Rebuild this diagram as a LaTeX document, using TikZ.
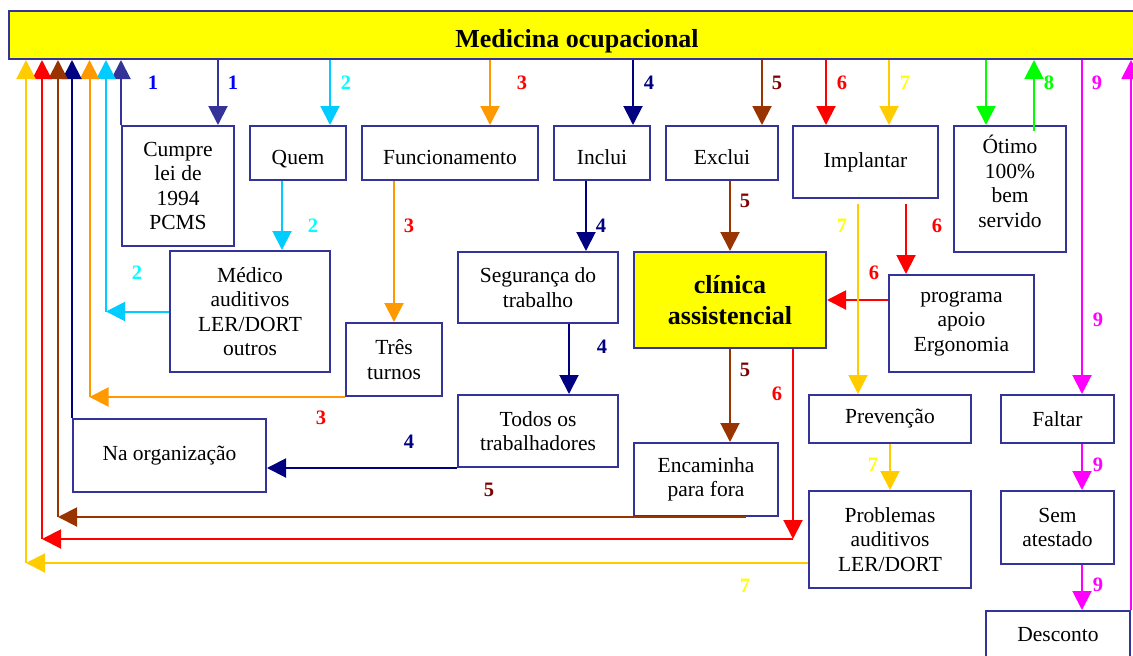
\documentclass[tikz,border=0pt]{standalone}
\usepackage{fontspec}
\setmainfont{Liberation Serif}
\usetikzlibrary{arrows.meta}
\definecolor{boxc}{HTML}{333399}
\definecolor{bany}{HTML}{FFFF00}
\definecolor{ind}{HTML}{333399}
\definecolor{cya}{HTML}{00CCFF}
\definecolor{org}{HTML}{FF9900}
\definecolor{nav}{HTML}{000080}
\definecolor{brn}{HTML}{993300}
\definecolor{rd}{HTML}{FF0000}
\definecolor{gld}{HTML}{FFCC00}
\definecolor{grn}{HTML}{00FF00}
\definecolor{mag}{HTML}{FF00FF}
\definecolor{lblue}{HTML}{0000FF}
\definecolor{lcyan}{HTML}{00FFFF}
\definecolor{ldred}{HTML}{800000}
\definecolor{lyel}{HTML}{FFFF00}
\begin{document}
\begin{tikzpicture}[x=1pt,y=-1pt,
  box/.style={draw=boxc,line width=2pt,fill=white,inner sep=0pt,align=center,
    font=\fontsize{21.5}{24.5}\selectfont},
  oneline/.style={text height=22pt,text depth=0pt},
  conn/.style={line width=2pt,-{Triangle[width=19pt,length=19pt]}},
  num/.style={font=\fontsize{20.5}{24}\selectfont\bfseries,inner sep=0pt},
]
\useasboundingbox (0,0) rectangle (1133,656);

% banner
\node[draw=boxc,line width=2pt,fill=bany,minimum width=1136pt,minimum height=48pt,
  inner sep=0pt,text height=24pt,text depth=0pt,
  font=\fontsize{26}{30}\selectfont\bfseries] (banner) at (577,35) {Medicina ocupacional};

% boxes
\node[box,minimum width=112pt,minimum height=120pt] (cumpre) at (178,186) {Cumpre\\lei de\\1994\\PCMS};
\node[box,oneline,minimum width=96pt,minimum height=54pt] (quem) at (298,153) {Quem};
\node[box,oneline,minimum width=176pt,minimum height=54pt] (func) at (450,153) {Funcionamento};
\node[box,oneline,minimum width=96pt,minimum height=54pt] (inclui) at (602,153) {Inclui};
\node[box,oneline,minimum width=112pt,minimum height=54pt] (exclui) at (722,153) {Exclui};
\node[box,minimum width=145pt,minimum height=72pt] (implantar) at (865.5,162) {Implantar};
\node[box,text depth=15pt,minimum width=112pt,minimum height=126pt] (otimo) at (1010,189) {Ótimo\\100\%\\bem\\servido};
\node[box,minimum width=160pt,minimum height=121pt] (medico) at (250,311.5) {Médico\\auditivos\\LER/DORT\\outros};
\node[box,minimum width=96pt,minimum height=73pt] (tres) at (394,359.5) {Três\\turnos};
\node[box,minimum width=193pt,minimum height=73pt] (naorg) at (169.5,455.5) {Na organização};
\node[box,minimum width=160pt,minimum height=71pt] (seg) at (538,287.5) {Segurança do\\trabalho};
\node[box,minimum width=160pt,minimum height=72pt] (todos) at (538,431) {Todos os\\trabalhadores};
\node[box,fill=bany,minimum width=192pt,minimum height=96pt,
  font=\fontsize{26}{31}\selectfont\bfseries] (clinica) at (730,300) {clínica\\assistencial};
\node[box,minimum width=144pt,minimum height=73pt] (encam) at (706,479.5) {Encaminha\\para fora};
\node[box,minimum width=145pt,minimum height=97pt] (programa) at (961.5,323.5) {programa\\apoio\\Ergonomia};
\node[box,minimum width=162pt,minimum height=48pt] (prev) at (890,419) {Prevenção};
\node[box,minimum width=113pt,minimum height=48pt] (faltar) at (1057.5,419) {Faltar};
\node[box,minimum width=162pt,minimum height=97pt] (problemas) at (890,539.5) {Problemas\\auditivos\\LER/DORT};
\node[box,minimum width=113pt,minimum height=73pt] (sem) at (1057.5,527.5) {Sem\\atestado};
\node[box,minimum width=144pt,minimum height=48pt] (desconto) at (1058,635) {Desconto};

% column and level positions of the connectors
\coordinate (xY) at (26,0);
\coordinate (xR) at (42,0);
\coordinate (xB) at (58,0);
\coordinate (xO) at (89.5,0);
\coordinate (xC) at (106,0);
\coordinate (d1) at (218,0);
\coordinate (d2) at (330,0);
\coordinate (d3) at (490,0);
\coordinate (d4) at (633,0);
\coordinate (d5) at (762,0);
\coordinate (d6) at (826,0);
\coordinate (d7) at (889,0);
\coordinate (d8) at (986,0);
\coordinate (g8) at (1034,0);
\coordinate (d9) at (1082,0);
\coordinate (q2) at (282,0);
\coordinate (i4) at (586,0);
\coordinate (s4) at (569,0);
\coordinate (p6) at (906,0);
\coordinate (pv7) at (858,0);
\coordinate (c6) at (793,0);
\coordinate (e5) at (746,0);
\coordinate (y6) at (0,539);
\coordinate (y7) at (0,563);

% 1
\draw[conn,ind] (banner.south -| d1) -- (cumpre.north -| d1);
\draw[conn,ind] (cumpre.north west) -- (banner.south -| cumpre.north west);
% 2
\draw[conn,cya] (banner.south -| d2) -- (quem.north -| d2);
\draw[conn,cya] (quem.south -| q2) -- (medico.north -| q2);
\draw[conn,cya] (medico.west) -- (medico.west -| xC);
\draw[conn,cya] (medico.west -| xC) -- (banner.south -| xC);
% 3
\draw[conn,org] (banner.south -| d3) -- (func.north -| d3);
\draw[conn,org] (func.south -| tres.north) -- (tres.north);
\draw[conn,org] (tres.south west) -- (tres.south west -| xO);
\draw[conn,org] (tres.south west -| xO) -- (banner.south -| xO);
% 4
\draw[conn,nav] (banner.south -| d4) -- (inclui.north -| d4);
\draw[conn,nav] (inclui.south -| i4) -- (seg.north -| i4);
\draw[conn,nav] (seg.south -| s4) -- (todos.north -| s4);
\draw[conn,nav] (todos.south west) -- (todos.south west -| naorg.east);
\draw[conn,nav] (naorg.north west) -- (banner.south -| naorg.north west);
% 5
\draw[conn,brn] (banner.south -| d5) -- (exclui.north -| d5);
\draw[conn,brn] (exclui.south -| clinica.north) -- (clinica.north);
\draw[conn,brn] (clinica.south) -- (encam.north -| clinica.south);
\draw[conn,brn] (encam.south -| e5) -- (encam.south -| xB);
\draw[conn,brn] (encam.south -| xB) -- (banner.south -| xB);
% 6
\draw[conn,rd] (banner.south -| d6) -- (implantar.north -| d6);
\draw[conn,rd,shorten <=5pt] (implantar.south -| p6) -- (programa.north -| p6);
\draw[conn,rd] (clinica.east -| programa.west) -- (clinica.east);
\draw[conn,rd] (clinica.south -| c6) -- (y6 -| c6);
\draw[conn,rd] (y6 -| c6) -- (y6 -| xR);
\draw[conn,rd] (y6 -| xR) -- (banner.south -| xR);
% 7
\draw[conn,gld] (banner.south -| d7) -- (implantar.north -| d7);
\draw[conn,gld,shorten <=5pt] (implantar.south -| pv7) -- (prev.north -| pv7);
\draw[conn,gld] (prev.south) -- (problemas.north);
\draw[conn,gld] (problemas.west |- y7) -- (y7 -| xY);
\draw[conn,gld] (y7 -| xY) -- (banner.south -| xY);
% 8
\draw[conn,grn] (banner.south -| d8) -- (otimo.north -| d8);
\draw[conn,grn,shorten <=-6pt] (otimo.north -| g8) -- (banner.south -| g8);
% 9
\draw[conn,mag] (banner.south -| d9) -- (faltar.north -| d9);
\draw[conn,mag] (faltar.south -| d9) -- (sem.north -| d9);
\draw[conn,mag] (sem.south -| d9) -- (desconto.north -| d9);
\draw[conn,mag] (desconto.north east) -- (banner.south -| desconto.north east);

% step numbers
\node[num,text=lblue] (n1a) at (153,83) {1};
\node[num,text=lblue] (n1b) at (233,83) {1};
\node[num,text=lcyan] (n2a) at (346,83) {2};
\node[num,text=lcyan] (n2b) at (313,226) {2};
\node[num,text=lcyan] (n2c) at (137,273) {2};
\node[num,text=rd] (n3a) at (522,83) {3};
\node[num,text=rd] (n3b) at (409,226) {3};
\node[num,text=rd] (n3c) at (321,418) {3};
\node[num,text=nav] (n4a) at (649,83) {4};
\node[num,text=nav] (n4b) at (601,226) {4};
\node[num,text=nav] (n4c) at (602,347) {4};
\node[num,text=nav] (n4d) at (409,442) {4};
\node[num,text=ldred] (n5a) at (777,83) {5};
\node[num,text=ldred] (n5b) at (745,201) {5};
\node[num,text=ldred] (n5c) at (745,370) {5};
\node[num,text=ldred] (n5d) at (489,490) {5};
\node[num,text=rd] (n6a) at (842,83) {6};
\node[num,text=rd] (n6b) at (937,226) {6};
\node[num,text=rd] (n6c) at (874,273) {6};
\node[num,text=rd] (n6d) at (777,394) {6};
\node[num,text=lyel] (n7a) at (905,83) {7};
\node[num,text=lyel] (n7b) at (842,226) {7};
\node[num,text=lyel] (n7c) at (873,465) {7};
\node[num,text=lyel] (n7d) at (745,586) {7};
\node[num,text=grn] (n8a) at (1049,83) {8};
\node[num,text=mag] (n9a) at (1097,83) {9};
\node[num,text=mag] (n9b) at (1098,320) {9};
\node[num,text=mag] (n9c) at (1098,465) {9};
\node[num,text=mag] (n9d) at (1098,585) {9};
\end{tikzpicture}
\end{document}
